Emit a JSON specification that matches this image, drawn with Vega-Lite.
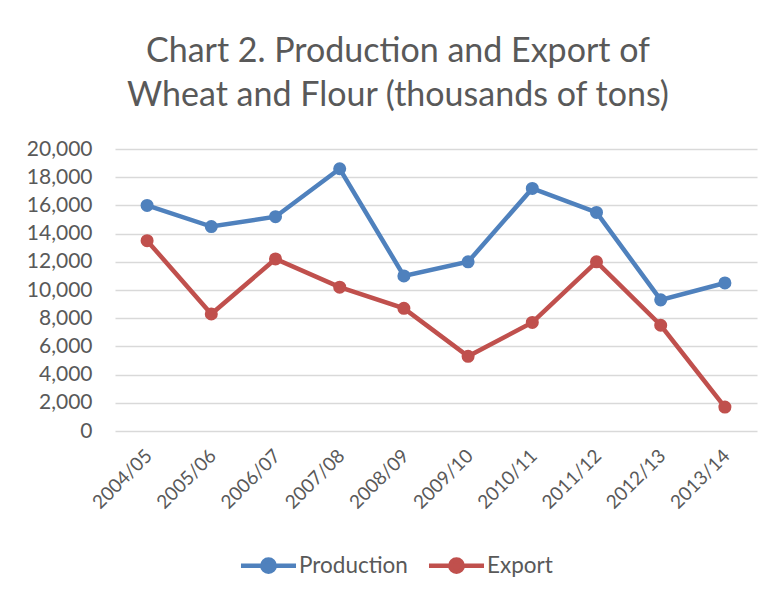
{
  "$schema": "https://vega.github.io/schema/vega-lite/v6.json",
  "autosize": "none",
  "width": 642,
  "height": 282,
  "padding": {"left": 115, "top": 149, "right": 15, "bottom": 168},
  "background": "white",
  "title": {
    "text": ["Chart 2. Production and Export of", "Wheat and Flour (thousands of tons)"],
    "font": "Lato",
    "fontSize": 34,
    "fontWeight": "normal",
    "color": "#595959",
    "anchor": "middle",
    "dx": -38,
    "offset": 25,
    "lineHeight": 44
  },
  "data": {
    "values": [
      {"year": "2004/05", "series": "Production", "value": 16000},
      {"year": "2005/06", "series": "Production", "value": 14500},
      {"year": "2006/07", "series": "Production", "value": 15200},
      {"year": "2007/08", "series": "Production", "value": 18600},
      {"year": "2008/09", "series": "Production", "value": 11000},
      {"year": "2009/10", "series": "Production", "value": 12000},
      {"year": "2010/11", "series": "Production", "value": 17200},
      {"year": "2011/12", "series": "Production", "value": 15500},
      {"year": "2012/13", "series": "Production", "value": 9300},
      {"year": "2013/14", "series": "Production", "value": 10500},
      {"year": "2004/05", "series": "Export", "value": 13500},
      {"year": "2005/06", "series": "Export", "value": 8300},
      {"year": "2006/07", "series": "Export", "value": 12200},
      {"year": "2007/08", "series": "Export", "value": 10200},
      {"year": "2008/09", "series": "Export", "value": 8700},
      {"year": "2009/10", "series": "Export", "value": 5300},
      {"year": "2010/11", "series": "Export", "value": 7700},
      {"year": "2011/12", "series": "Export", "value": 12000},
      {"year": "2012/13", "series": "Export", "value": 7500},
      {"year": "2013/14", "series": "Export", "value": 1700}
    ]
  },
  "mark": {"type": "line", "strokeWidth": 4.5, "point": {"size": 170, "filled": true, "opacity": 1}},
  "encoding": {
    "x": {
      "field": "year", "type": "ordinal", "title": null,
      "scale": {"type": "point", "padding": 0.5},
      "axis": {
        "labelAngle": -45, "labelFont": "Lato", "labelFontSize": 19, "labelColor": "#595959",
        "ticks": false, "domain": false, "labelPadding": 15, "labelOffset": -5, "grid": false
      }
    },
    "y": {
      "field": "value", "type": "quantitative", "title": null,
      "scale": {"domain": [0, 20000], "nice": false},
      "axis": {
        "values": [0, 2000, 4000, 6000, 8000, 10000, 12000, 14000, 16000, 18000, 20000],
        "format": ",.0f", "labelFont": "Lato", "labelFontSize": 21, "labelColor": "#595959",
        "ticks": false, "domain": false, "labelPadding": 23,
        "gridColor": "#d9d9d9", "gridWidth": 1.3
      }
    },
    "color": {
      "field": "series", "type": "nominal", "title": null,
      "scale": {"domain": ["Production", "Export"], "range": ["#4F81BD", "#C0504D"]},
      "legend": {
        "orient": "none", "direction": "horizontal",
        "legendX": 134, "legendY": 397,
        "labelFont": "Lato", "labelFontSize": 22.5, "labelColor": "#595959",
        "symbolType": "M-1.6,0L1.6,0M-0.36,0A0.36,0.36 0 1,0 0.36,0A0.36,0.36 0 1,0 -0.36,0Z",
        "symbolSize": 1183, "symbolStrokeWidth": 4.5, "symbolFillColor": null,
        "symbolOpacity": 1, "labelOffset": 11, "columnPadding": 11
      }
    }
  },
  "config": {"view": {"stroke": null}}
}
